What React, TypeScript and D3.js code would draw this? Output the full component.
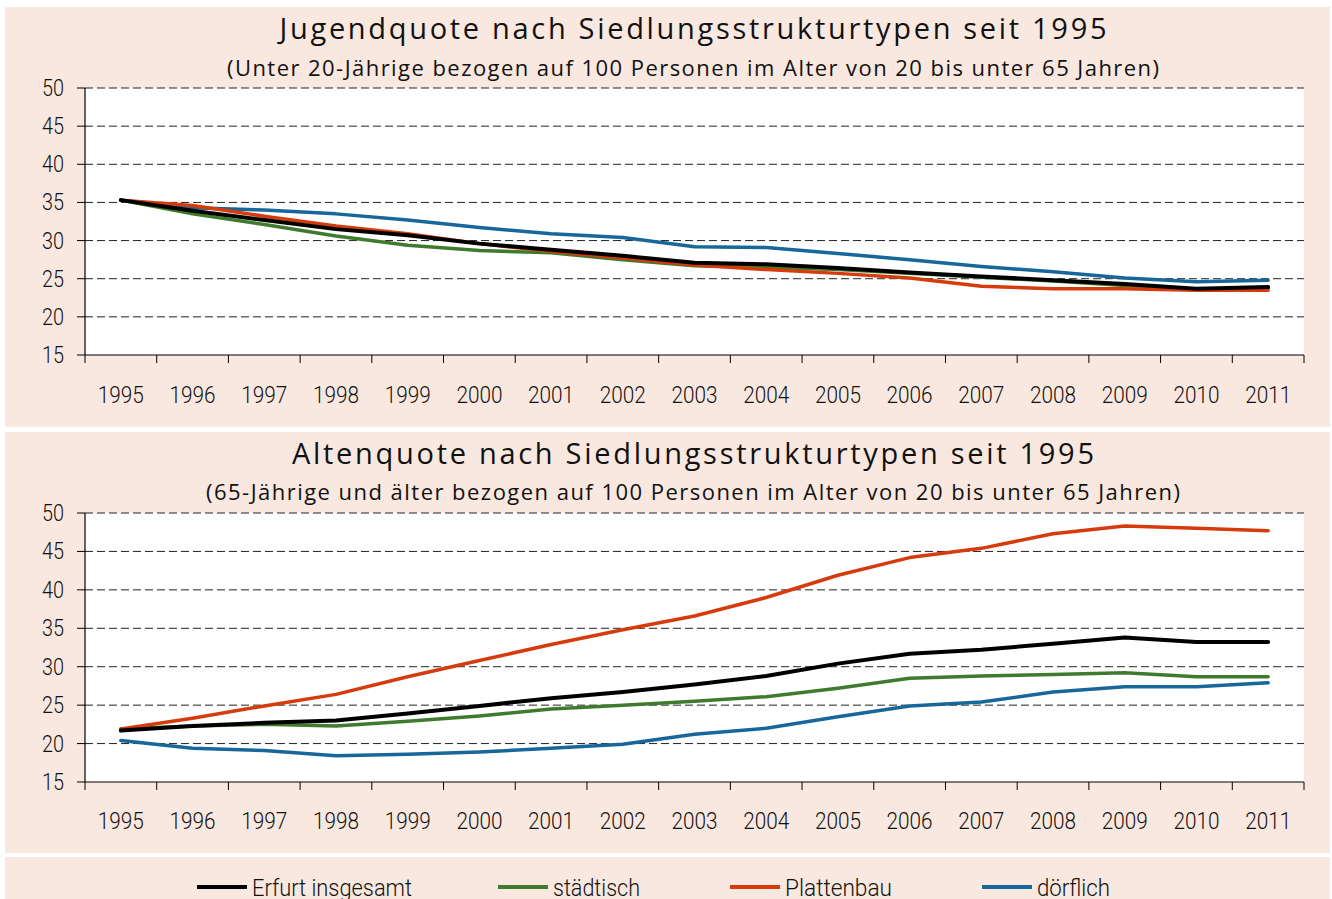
import React from 'react';
import * as d3 from 'd3';

const years = ['1995','1996','1997','1998','1999','2000','2001','2002','2003','2004','2005','2006','2007','2008','2009','2010','2011'];
const yTicks = [15, 20, 25, 30, 35, 40, 45, 50];

const jugendErfurt = [35.3, 33.9, 32.7, 31.5, 30.7, 29.6, 28.8, 28.0, 27.1, 26.9, 26.4, 25.8, 25.3, 24.8, 24.3, 23.7, 23.9];
const jugendStaedtisch = [35.3, 33.5, 32.1, 30.6, 29.4, 28.7, 28.4, 27.5, 26.7, 26.5, 26.2, 25.7, 25.2, 24.7, 24.1, 23.6, 23.8];
const jugendPlatten = [35.3, 34.6, 33.2, 31.9, 30.9, 29.6, 28.6, 27.7, 26.8, 26.2, 25.7, 25.1, 24.0, 23.7, 23.7, 23.5, 23.5];
const jugendDoerflich = [35.3, 34.3, 34.0, 33.5, 32.7, 31.7, 30.9, 30.4, 29.2, 29.1, 28.3, 27.5, 26.6, 25.9, 25.1, 24.6, 24.8];

const altenErfurt = [21.7, 22.3, 22.7, 23.0, 23.9, 24.9, 25.9, 26.7, 27.7, 28.8, 30.4, 31.7, 32.2, 33.0, 33.8, 33.2, 33.2];
const altenStaedtisch = [21.9, 22.3, 22.5, 22.3, 22.9, 23.6, 24.5, 25.0, 25.5, 26.1, 27.2, 28.5, 28.8, 29.0, 29.2, 28.7, 28.7];
const altenPlatten = [21.9, 23.3, 24.9, 26.4, 28.7, 30.8, 32.9, 34.8, 36.6, 39.0, 41.9, 44.2, 45.4, 47.3, 48.3, 48.0, 47.7];
const altenDoerflich = [20.4, 19.4, 19.1, 18.4, 18.6, 18.9, 19.4, 19.9, 21.2, 22.0, 23.5, 24.9, 25.4, 26.7, 27.4, 27.4, 27.9];

const seriesNames = ['Erfurt insgesamt', 'städtisch', 'Plattenbau', 'dörflich'];
const seriesColors = ['#000000', '#3f7b2c', '#d63b0c', '#17679a'];

const PINK = '#f9e8e0';
const FONT = "'Open Sans', 'Noto Sans', sans-serif";
const NARROW = "'Roboto', 'Noto Sans', sans-serif";

type PanelProps = {
  title: string;
  subtitle: string;
  data: number[][];
  top: number;
  bottom: number;
  titleY: number;
  subY: number;
  titleLen: number;
  subLen: number;
  labelY: number;
};

function Panel({ title, subtitle, data, top, bottom, titleY, subY, titleLen, subLen, labelY }: PanelProps) {
  const x = d3.scaleBand<string>().domain(years).range([85, 1304]);
  const y = d3.scaleLinear().domain([15, 50]).range([bottom, top]);
  const cx = (yr: string) => (x(yr) as number) + x.bandwidth() / 2;
  const line = d3.line<number>().x((_, i) => cx(years[i])).y(v => y(v));
  const order = [3, 1, 2, 0];
  return (
    <g>
      <text x={693} y={titleY} textAnchor="middle" fontFamily={FONT} fontSize={29} fontWeight={500}
        textLength={titleLen} lengthAdjust="spacing" fill="#111">{title}</text>
      <text x={693} y={subY} textAnchor="middle" fontFamily={FONT} fontSize={22}
        textLength={subLen} lengthAdjust="spacing" fill="#111">{subtitle}</text>
      <rect x={85} y={y(50)} width={1304 - 85} height={y(15) - y(50)} fill="#fff" />
      {yTicks.filter(t => t > 15).map(t => (
        <line key={'g' + t} x1={85} x2={1304} y1={y(t)} y2={y(t)} stroke="#222" strokeWidth={1} strokeDasharray="8,4" />
      ))}
      {yTicks.map(t => (
        <g key={'t' + t}>
          <line x1={77} x2={85} y1={y(t)} y2={y(t)} stroke="#000" strokeWidth={1} />
          <text x={64} y={y(t) + 8} textAnchor="end" fontFamily={NARROW} fontSize={23} fontWeight={300}
            textLength={22} lengthAdjust="spacingAndGlyphs" fill="#111">{t}</text>
        </g>
      ))}
      <line x1={85} x2={85} y1={y(50)} y2={y(15)} stroke="#000" strokeWidth={1.2} />
      <line x1={85} x2={1304} y1={y(15)} y2={y(15)} stroke="#000" strokeWidth={1.2} />
      {years.map(yr => (
        <line key={'xt' + yr} x1={x(yr) as number} x2={x(yr) as number} y1={y(15)} y2={y(15) + 8} stroke="#000" strokeWidth={1} />
      ))}
      <line x1={1304} x2={1304} y1={y(15)} y2={y(15) + 8} stroke="#000" strokeWidth={1} />
      {years.map(yr => (
        <text key={'xl' + yr} x={cx(yr)} y={labelY} textAnchor="middle" fontFamily={NARROW} fontSize={24} fontWeight={300}
          textLength={46} lengthAdjust="spacingAndGlyphs" fill="#111">{yr}</text>
      ))}
      {order.map(i => (
        <path key={'l' + i} d={line(data[i]) as string} fill="none" stroke={seriesColors[i]}
          strokeWidth={i === 0 ? 4 : 3.5} strokeLinejoin="round" strokeLinecap="round" />
      ))}
    </g>
  );
}

export default function App() {
  const legendX = [197, 498, 730, 982];
  const legendLen = [160, 87, 107, 73];
  return (
    <svg width={1332} height={899} style={{ position: 'absolute', left: 0, top: 0, background: '#fff' }}>
      <rect x={5} y={7} width={1325} height={420} fill={PINK} />
      <rect x={5} y={432} width={1325} height={421} fill={PINK} />
      <rect x={5} y={857} width={1325} height={50} fill={PINK} />
      <Panel title="Jugendquote nach Siedlungsstrukturtypen seit 1995"
        subtitle="(Unter 20-Jährige bezogen auf 100 Personen im Alter von 20 bis unter 65 Jahren)"
        data={[jugendErfurt, jugendStaedtisch, jugendPlatten, jugendDoerflich]}
        top={88} bottom={355} titleY={39} subY={76} titleLen={827} subLen={932} labelY={403} />
      <Panel title="Altenquote nach Siedlungsstrukturtypen seit 1995"
        subtitle="(65-Jährige und älter bezogen auf 100 Personen im Alter von 20 bis unter 65 Jahren)"
        data={[altenErfurt, altenStaedtisch, altenPlatten, altenDoerflich]}
        top={513} bottom={782} titleY={464} subY={500} titleLen={802} subLen={974} labelY={829} />
      {seriesNames.map((n, i) => (
        <g key={'lg' + i}>
          <line x1={legendX[i]} x2={legendX[i] + 50} y1={887} y2={887} stroke={seriesColors[i]} strokeWidth={4} />
          <text x={legendX[i] + 55} y={896} fontFamily={NARROW} fontSize={24} fontWeight={300} textLength={legendLen[i]}
            lengthAdjust="spacingAndGlyphs" fill="#111">{n}</text>
        </g>
      ))}
    </svg>
  );
}
